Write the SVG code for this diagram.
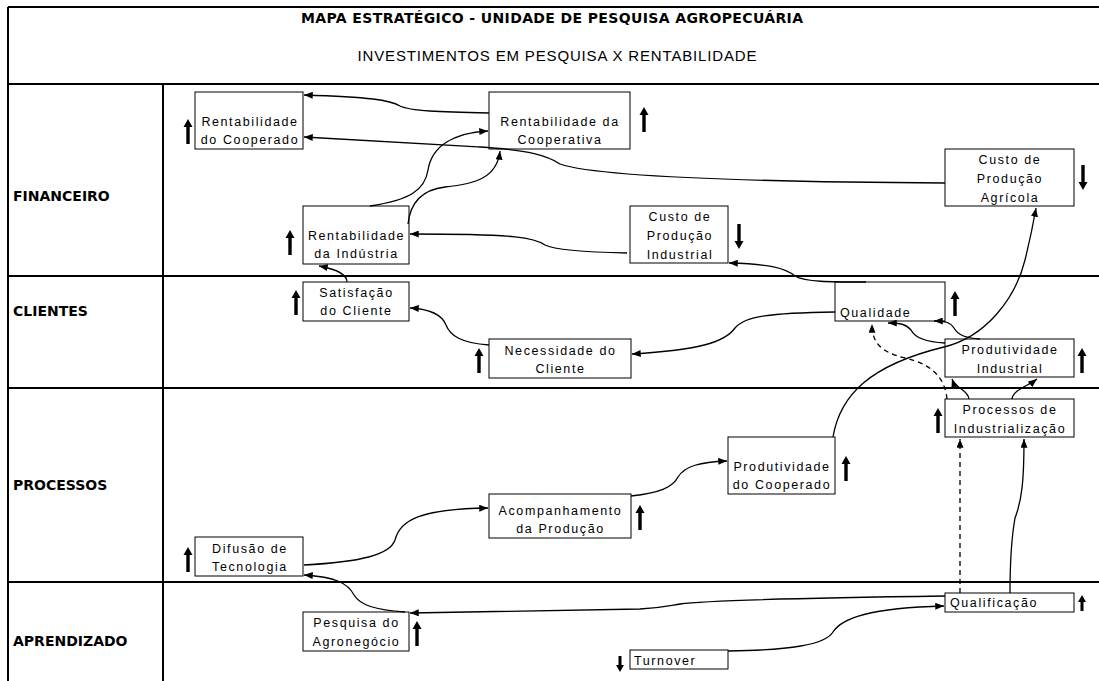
<svg xmlns="http://www.w3.org/2000/svg" width="1099" height="681" viewBox="0 0 1099 681">
<style>
.frame{stroke:#000;stroke-width:2;fill:none}
.box{fill:#fff;stroke:#000;stroke-width:1}
.t{font-family:"Liberation Sans",Arial,sans-serif;font-size:12.5px;letter-spacing:1.6px;fill:#000}
.c{text-anchor:middle}
.sec{font-family:"DejaVu Sans",Verdana,sans-serif;font-weight:bold;font-size:14px;fill:#000}
.title{font-family:"DejaVu Sans",Verdana,sans-serif;font-weight:bold;font-size:14px;fill:#000;text-anchor:middle}
.sub{font-family:"Liberation Sans",Arial,sans-serif;font-size:15px;fill:#000;text-anchor:middle}
.con{fill:none;stroke:#000;stroke-width:1.3;marker-end:url(#ah)}
.dash{stroke-dasharray:5,4}
.ind{fill:#000}
</style>
<defs>
<marker id="ah" viewBox="0 0 10 8" refX="10" refY="4" markerWidth="9" markerHeight="7" orient="auto" markerUnits="userSpaceOnUse"><path d="M0,0 L10,4 L0,8 z" fill="#000"/></marker>
<path id="upBig" d="M0,0 L4.5,8 L1.7,8 L1.7,25 L-1.7,25 L-1.7,8 L-4.5,8 Z"/>
<path id="upSmall" d="M0,0 L4,7 L1.5,7 L1.5,16 L-1.5,16 L-1.5,7 L-4,7 Z"/>
</defs>
<rect width="1099" height="681" fill="#fff"/>
<g id="frame">
<line class="frame" x1="8" y1="7" x2="1099" y2="7"/>
<line class="frame" x1="8" y1="7" x2="8" y2="681"/>
<line class="frame" x1="8" y1="84" x2="1099" y2="84"/>
<line class="frame" x1="163" y1="84" x2="163" y2="681"/>
<line class="frame" x1="8" y1="276" x2="1099" y2="276"/>
<line class="frame" x1="8" y1="388" x2="1099" y2="388"/>
<line class="frame" x1="8" y1="582" x2="1099" y2="582"/>
<text class="title" x="552" y="23" textLength="502" lengthAdjust="spacing">MAPA ESTRATÉGICO - UNIDADE DE PESQUISA AGROPECUÁRIA</text>
<text class="sub" x="557" y="61" textLength="399" lengthAdjust="spacing">INVESTIMENTOS EM PESQUISA X RENTABILIDADE</text>
<text class="sec" x="13" y="201">FINANCEIRO</text>
<text class="sec" x="13" y="316">CLIENTES</text>
<text class="sec" x="13" y="490">PROCESSOS</text>
<text class="sec" x="13" y="646">APRENDIZADO</text>
</g>
<g id="n-rent-cooperado">
<rect class="box" x="195" y="92" width="108" height="57"/>
<text class="t c" x="250" y="126">Rentabilidade</text>
<text class="t c" x="250" y="144">do Cooperado</text>
<use href="#upBig" class="ind" x="188" y="119"/>
</g>
<g id="n-rent-cooperativa">
<rect class="box" x="489" y="92" width="141" height="57"/>
<text class="t c" x="560" y="126">Rentabilidade da</text>
<text class="t c" x="560" y="144">Cooperativa</text>
<use href="#upBig" class="ind" x="644" y="107"/>
</g>
<g id="n-rent-industria">
<rect class="box" x="303" y="206" width="106" height="58"/>
<text class="t c" x="356.5" y="240">Rentabilidade</text>
<text class="t c" x="356.5" y="258">da Indústria</text>
<use href="#upBig" class="ind" x="290" y="230"/>
</g>
<g id="n-custo-industrial">
<rect class="box" x="630" y="206" width="98" height="57"/>
<text class="t c" x="680" y="221">Custo de</text>
<text class="t c" x="680" y="240">Produção</text>
<text class="t c" x="680" y="259">Industrial</text>
<use href="#upBig" class="ind" transform="translate(739,249) rotate(180)"/>
</g>
<g id="n-custo-agricola">
<rect class="box" x="945" y="149" width="129" height="57"/>
<text class="t c" x="1010" y="164">Custo de</text>
<text class="t c" x="1010" y="183">Produção</text>
<text class="t c" x="1010" y="202">Agrícola</text>
<use href="#upBig" class="ind" transform="translate(1083,190) rotate(180)"/>
</g>
<g id="n-satisfacao">
<rect class="box" x="303" y="282" width="106" height="39"/>
<text class="t c" x="356.5" y="297">Satisfação</text>
<text class="t c" x="356.5" y="315">do Cliente</text>
<use href="#upBig" class="ind" x="296" y="290"/>
</g>
<g id="n-necessidade">
<rect class="box" x="489" y="339" width="142" height="39"/>
<text class="t c" x="560.5" y="355">Necessidade do</text>
<text class="t c" x="560.5" y="373">Cliente</text>
<use href="#upBig" class="ind" x="479" y="348"/>
</g>
<g id="n-qualidade">
<rect class="box" x="835" y="282" width="110" height="39"/>
<text class="t" x="840" y="317">Qualidade</text>
<use href="#upBig" class="ind" x="955" y="291"/>
</g>
<g id="n-prod-industrial">
<rect class="box" x="945" y="339" width="129" height="38"/>
<text class="t c" x="1010" y="354">Produtividade</text>
<text class="t c" x="1010" y="373">Industrial</text>
<use href="#upBig" class="ind" x="1082" y="348"/>
</g>
<g id="n-processos">
<rect class="box" x="945" y="399" width="129" height="38"/>
<text class="t c" x="1010" y="414">Processos de</text>
<text class="t c" x="1010" y="433">Industrialização</text>
<use href="#upBig" class="ind" x="938" y="408"/>
</g>
<g id="n-prod-cooperado">
<rect class="box" x="728" y="437" width="107" height="57"/>
<text class="t c" x="782" y="471">Produtividade</text>
<text class="t c" x="782" y="489">do Cooperado</text>
<use href="#upBig" class="ind" x="846" y="456"/>
</g>
<g id="n-acompanhamento">
<rect class="box" x="489" y="494" width="142" height="44"/>
<text class="t c" x="560.5" y="515">Acompanhamento</text>
<text class="t c" x="560.5" y="533">da Produção</text>
<use href="#upBig" class="ind" x="640" y="505"/>
</g>
<g id="n-difusao">
<rect class="box" x="195" y="537" width="108" height="39"/>
<text class="t c" x="250" y="553">Difusão de</text>
<text class="t c" x="250" y="571">Tecnologia</text>
<use href="#upBig" class="ind" x="188" y="547"/>
</g>
<g id="n-pesquisa">
<rect class="box" x="303" y="612" width="106" height="39"/>
<text class="t c" x="356.5" y="627">Pesquisa do</text>
<text class="t c" x="356.5" y="646">Agronegócio</text>
<use href="#upBig" class="ind" x="417" y="621"/>
</g>
<g id="n-qualificacao">
<rect class="box" x="945" y="593" width="129" height="19"/>
<text class="t" x="950" y="607">Qualificação</text>
<use href="#upSmall" class="ind" x="1082" y="595"/>
</g>
<g id="n-turnover">
<rect class="box" x="630" y="650" width="98" height="19"/>
<text class="t" x="634" y="665">Turnover</text>
<use href="#upSmall" class="ind" transform="translate(620,672) rotate(180)"/>
</g>
<g id="connectors">
<path class="con" d="M489,113 C440,112 410,111 400,106 C390,100 370,97 304,95"/>
<path class="con" d="M945,183 C780,182 600,178 560,164 C548,156 530,150 480,147 C420,144 360,140 304,137"/>
<path class="con" d="M370,206 C410,200 425,190 428,170 C432,145 455,133 488,131"/>
<path class="con" d="M408,224 C410,205 420,190 445,187 C475,184 497,178 500,151"/>
<path class="con" d="M627,253 C580,252 555,250 545,245 C535,238 520,234 410,234"/>
<path class="con" d="M866,282 C830,282 805,282 795,276 C785,268 770,264 729,263"/>
<path class="con" d="M347,282 C347,274 335,269 319,266"/>
<path class="con" d="M489,345 C460,343 450,335 446,325 C442,315 430,309 410,308"/>
<path class="con" d="M835,312 C770,313 745,316 735,328 C725,342 700,350 632,354"/>
<path class="con" d="M945,343 C925,342 915,338 911,330 C906,324 900,323 888,323"/>
<path class="con" d="M980,339 C965,338 958,335 954,328 C950,322 945,321 934,321"/>
<path class="con" d="M833,437 C840,395 870,365 944,347 C985,337 1015,300 1025,260 C1030,240 1033,225 1036,208"/>
<path class="con dash" d="M947,399 C945,380 935,365 905,358 C880,352 872,342 872,324"/>
<path class="con" d="M969,399 C968,390 955,388 952,379"/>
<path class="con" d="M1012,399 C1013,390 1028,386 1037,379"/>
<path class="con dash" d="M960,593 L960,439"/>
<path class="con" d="M1010,593 C1010,560 1012,535 1015,518 C1022,500 1024,480 1024,439"/>
<path class="con" d="M945,596 C800,598 700,601 680,604 C668,606 660,608 640,609 L410,613"/>
<path class="con" d="M405,612 C375,610 360,605 354,595 C348,583 335,577 304,575"/>
<path class="con" d="M304,565 C360,562 390,555 395,540 C400,520 420,509 488,508"/>
<path class="con" d="M631,496 C660,493 673,487 678,477 C685,466 700,462 727,461"/>
<path class="con" d="M728,651 C790,650 825,645 833,632 C842,618 870,608 944,606"/>
</g>
</svg>
